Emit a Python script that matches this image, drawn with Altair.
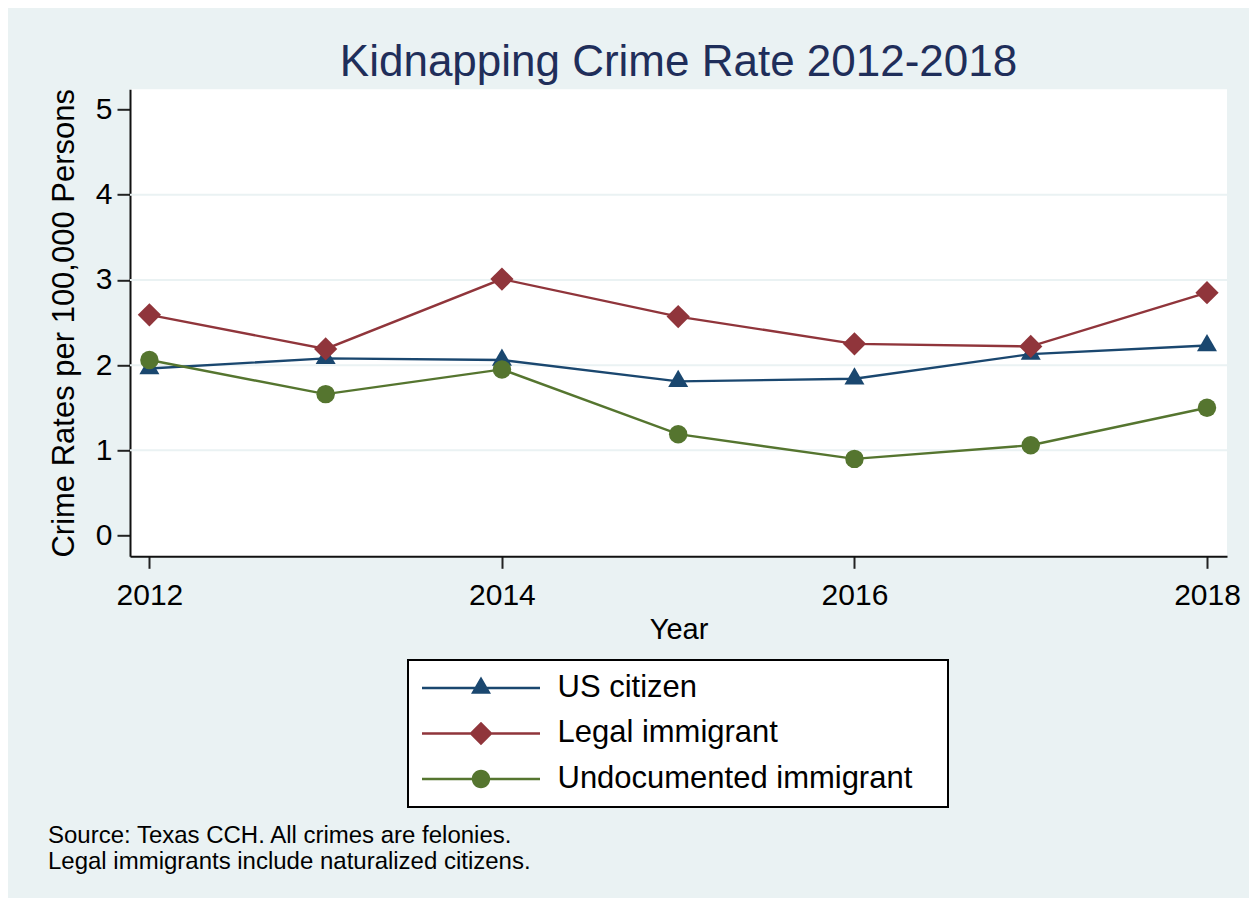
import altair as alt
import pandas as pd

# ---- data ----
years = [2012, 2013, 2014, 2015, 2016, 2017, 2018]
us_citizen = [1.96, 2.08, 2.06, 1.81, 1.84, 2.13, 2.23]
legal_immigrant = [2.59, 2.19, 3.01, 2.57, 2.25, 2.22, 2.85]
undocumented_immigrant = [2.06, 1.66, 1.95, 1.19, 0.90, 1.06, 1.50]
series_names = ["US citizen", "Legal immigrant", "Undocumented immigrant"]
x_tick_values = [2012, 2014, 2016, 2018]
y_tick_values = [0, 1, 2, 3, 4, 5]
grid_values = [1, 2, 3, 4]
title_text = "Kidnapping Crime Rate 2012-2018"
x_title = "Year"
y_title = "Crime Rates per 100,000 Persons"
note_lines = ["Source: Texas CCH. All crimes are felonies.",
              "Legal immigrants include naturalized citizens."]

# ---- styles ----
colors = ["#1A476F", "#90353B", "#55752F"]
FONT = "Liberation Sans"
BG = "#EAF2F3"

# marker shapes in the plot (triangle centred on its centroid, like Stata)
tri_path = "M0,-1.155L1,0.577L-1,0.577Z"
plot_shapes = [tri_path, "diamond", "circle"]
plot_sizes = [400, 540, 340]

# legend symbols: a line stub with the marker in the middle (unit = 10 px)
stub = "M-5.9,-0.12L5.9,-0.12L5.9,0.12L-5.9,0.12Z "
legend_shapes = [
    stub + "M0,-1.155L1,0.577L-1,0.577Z",
    stub + "M0,-1.17L1.17,0L0,1.17L-1.17,0Z",
    stub + "M0.92,0A0.92,0.92 0 1,1 -0.92,0A0.92,0.92 0 1,1 0.92,0Z",
]

rows = []
for name, vals in zip(series_names, [us_citizen, legal_immigrant, undocumented_immigrant]):
    for yr, v in zip(years, vals):
        rows.append({"year": yr, "rate": v, "series": name})
df = pd.DataFrame(rows)
grid_df = pd.DataFrame({"v": grid_values})
note_df = pd.DataFrame({"note": [0]})

xscale = alt.Scale(domain=[2011.89, 2018.1135], nice=False, zero=False)
yscale = alt.Scale(domain=[-0.243, 5.237], nice=False, zero=False)
cscale = alt.Scale(domain=series_names, range=colors)

x_axis = alt.Axis(values=x_tick_values, format="d", title=x_title,
                  tickSize=12, labelPadding=12, titlePadding=5,
                  labelFontSize=30, titleFontSize=29, grid=False)
y_axis = alt.Axis(values=y_tick_values, format="d", title=y_title,
                  tickSize=13, labelPadding=5, titlePadding=15,
                  labelFontSize=30, titleFontSize=31, grid=False)
x_enc = alt.X("year:Q", scale=xscale, axis=x_axis)
y_enc = alt.Y("rate:Q", scale=yscale, axis=y_axis)

leg = alt.Legend(
    title=None, orient="none", legendX=278, legendY=570.7,
    symbolSize=400, symbolOffset=45, labelOffset=61,
    labelFontSize=31, labelFont=FONT, labelColor="black", labelLimit=800,
    labelExpr="datum.label + '\u2800'",
    rowPadding=13.5, padding=12.5, fillColor="white", strokeColor="black",
    symbolStrokeWidth=0, symbolOpacity=1,
)
legend_layer = alt.Chart(df).transform_filter("false").mark_point(
    filled=True, opacity=1
).encode(
    x=x_enc, y=y_enc,
    color=alt.Color("series:N", scale=cscale, legend=leg),
    shape=alt.Shape("series:N", scale=alt.Scale(domain=series_names, range=legend_shapes), legend=leg),
)

grid = alt.Chart(grid_df).mark_rule(color=BG, strokeWidth=2).encode(
    y=alt.Y("v:Q", scale=yscale, axis=y_axis)
)

layers = [legend_layer, grid]
for name, col, shp, sz in zip(series_names, colors, plot_shapes, plot_sizes):
    base = alt.Chart(df).transform_filter(alt.datum.series == name)
    line = base.mark_line(strokeWidth=2.4, color=col).encode(x=x_enc, y=y_enc)
    pts = base.mark_point(shape=shp, size=sz, filled=True, opacity=1, color=col).encode(
        x=x_enc, y=y_enc)
    layers += [line, pts]

note = alt.Chart(note_df).mark_text(
    text=note_lines, align="left", baseline="alphabetic", font=FONT,
    fontSize=24, lineHeight=26, color="black"
).encode(x=alt.value(-82), y=alt.value(753.7))
layers.append(note)

chart = alt.layer(*layers).properties(
    width=1097, height=467,
    padding={"left": 122, "top": 81.3, "right": 22, "bottom": 342},
    autosize=alt.AutoSizeParams(type="none"),
    background=BG,
    title=alt.TitleParams(text=title_text, font=FONT, fontSize=44, color="#1F2E5A",
                          fontWeight="normal", anchor="middle", frame="group",
                          baseline="alphabetic", offset=13.6, dy=45),
).configure_view(
    fill="white", stroke=None, strokeWidth=0
).configure_axis(
    labelFont=FONT, titleFont=FONT, labelColor="black", titleColor="black",
    titleFontWeight="normal", domainColor="#111111", domainWidth=2,
    tickColor="#222222", tickWidth=2,
).configure_legend(
    strokeWidth=2
)

chart.save("out.html", embed_options={"renderer": "svg", "actions": False})
